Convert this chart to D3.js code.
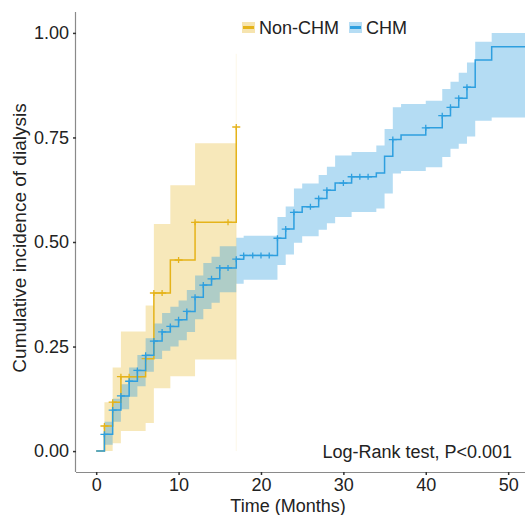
<!DOCTYPE html>
<html>
<head>
<meta charset="utf-8">
<script src="https://cdn.jsdelivr.net/npm/d3@7"></script>
<style>
  body { margin: 0; background: #fff; }
  text { font-family: "Liberation Sans", Arial, sans-serif; fill: #222; }
</style>
</head>
<body>
<div id="chart"></div>
<script>
// Non-CHM: step times (months), cumulative incidence and 95% CI
var nonTime  = [0, 1, 2, 3, 6, 7, 9, 12, 17];
var nonEst   = [0, 0.06, 0.117, 0.178, 0.221, 0.378, 0.457, 0.547, 0.775];
var nonLow   = [0, 0.0, 0.019, 0.048, 0.067, 0.15, 0.179, 0.219, 0.0];
var nonHigh  = [0, 0.117, 0.2, 0.286, 0.348, 0.543, 0.636, 0.736, 0.95];
var nonCensor = [1, 2, 3, 4, 5, 6, 7, 8, 10, 12, 16, 17];

// CHM
var chmTime = [0, 1, 2, 3, 4, 5, 6, 7, 8, 9, 10, 11, 12, 13, 14, 15, 17, 17.9,
               22, 23, 24, 25, 27, 28, 29, 31, 34, 35, 36, 37, 40, 42, 43, 44, 45, 46, 48, 53];
var chmEst  = [0, 0.04, 0.098, 0.132, 0.167, 0.193, 0.229, 0.263, 0.285, 0.298, 0.314, 0.334, 0.368, 0.397, 0.412, 0.438, 0.459, 0.468,
               0.509, 0.531, 0.571, 0.584, 0.604, 0.624, 0.641, 0.656, 0.665, 0.705, 0.745, 0.756, 0.773, 0.802, 0.822, 0.844, 0.87, 0.935, 0.967, 0.967];
var chmLow  = [0, 0.015, 0.07, 0.1, 0.13, 0.155, 0.19, 0.22, 0.24, 0.25, 0.265, 0.285, 0.315, 0.34, 0.355, 0.38, 0.4, 0.41,
               0.445, 0.47, 0.498, 0.514, 0.529, 0.545, 0.56, 0.572, 0.58, 0.616, 0.664, 0.67, 0.679, 0.703, 0.723, 0.735, 0.752, 0.79, 0.798, 0.798];
var chmHigh = [0, 0.07, 0.125, 0.16, 0.2, 0.23, 0.27, 0.305, 0.33, 0.345, 0.36, 0.385, 0.42, 0.45, 0.465, 0.49, 0.51, 0.515,
               0.56, 0.585, 0.628, 0.64, 0.66, 0.68, 0.707, 0.715, 0.731, 0.77, 0.822, 0.83, 0.838, 0.866, 0.883, 0.905, 0.929, 0.979, 1.0, 1.0];
var chmCensor = [1, 2, 3, 4, 5, 6, 7, 8, 9, 10, 11, 12, 13, 14, 15, 16, 17, 17.9, 19, 20, 21, 22, 23, 24,
                 26, 27, 28, 30, 31, 32, 33, 36, 40, 42, 43, 44, 45];

var xTicks = [0, 10, 20, 30, 40, 50];
var yTicks = [0, 0.25, 0.5, 0.75, 1];
var groups = ["Non-CHM", "CHM"];
var colors = ["#E5B31A", "#2E9FDF"];

var width = 525, height = 515;
var svg = d3.select("#chart").append("svg")
    .attr("width", width)
    .attr("height", height);

var x = d3.scaleLinear().domain([-2.45, 52.65]).range([76, 530]);
var y = d3.scaleLinear().domain([-0.05, 1.05]).range([472, 12]);

svg.append("clipPath").attr("id", "plotclip")
  .append("rect").attr("x", 76).attr("y", 0).attr("width", 460).attr("height", 472);

function rows(t, e, lo, hi) {
  return t.map(function (d, i) { return { t: d, est: e[i], lo: lo[i], hi: hi[i] }; });
}
var series = [
  rows(nonTime, nonEst, nonLow, nonHigh),
  rows(chmTime, chmEst, chmLow, chmHigh)
];
var censors = [nonCensor, chmCensor];

// value of a step curve at time t
function stepAt(data, t) {
  var v = 0;
  data.forEach(function (d) { if (d.t <= t + 1e-9) v = d.est; });
  return v;
}

var band = d3.area()
    .curve(d3.curveStepAfter)
    .x(function (d) { return x(d.t); })
    .y0(function (d) { return y(d.lo); })
    .y1(function (d) { return y(d.hi); });

var line = d3.line()
    .curve(d3.curveStepAfter)
    .x(function (d) { return x(d.t); })
    .y(function (d) { return y(d.est); });

var plot = svg.append("g").attr("clip-path", "url(#plotclip)");
var bandOpacity = [0.3, 0.36];

series.forEach(function (s, i) {
  plot.append("path")
    .attr("d", band(s))
    .attr("fill", colors[i])
    .attr("fill-opacity", bandOpacity[i])
    .attr("stroke", "none");
});

// last Non-CHM interval has zero width: only a faint sliver shows
var lastNon = series[0][series[0].length - 1];
plot.append("line")
  .attr("x1", x(lastNon.t)).attr("x2", x(lastNon.t))
  .attr("y1", y(lastNon.lo)).attr("y2", y(lastNon.hi))
  .attr("stroke", colors[0]).attr("stroke-opacity", 0.1).attr("stroke-width", 1);

series.forEach(function (s, i) {
  plot.append("path")
    .attr("d", line(s))
    .attr("fill", "none")
    .attr("stroke", colors[i])
    .attr("stroke-width", 1.5);

  plot.selectAll(".cens" + i)
    .data(censors[i])
    .enter().append("path")
    .attr("class", "cens" + i)
    .attr("d", function (t) {
      var cx = x(t), cy = y(stepAt(s, t));
      return "M" + (cx - 4) + "," + cy + "H" + (cx + 4) + "M" + cx + "," + (cy - 3) + "V" + (cy + 3);
    })
    .attr("stroke", colors[i])
    .attr("stroke-width", 1.3);
});

// axes
var xAxis = svg.append("g").attr("transform", "translate(0,472)")
  .call(d3.axisBottom(x).tickValues(xTicks).tickSize(3).tickPadding(3).tickFormat(d3.format("d")));
var yAxis = svg.append("g").attr("transform", "translate(76,0)")
  .call(d3.axisLeft(y).tickValues(yTicks).tickSize(3).tickPadding(4).tickFormat(d3.format(".2f")));

[xAxis, yAxis].forEach(function (a) {
  a.select(".domain").attr("stroke", "#8a8a8a").attr("stroke-width", 1.2);
  a.selectAll(".tick line").attr("stroke", "#333").attr("stroke-width", 1.5);
  a.selectAll(".tick text").attr("fill", "#222")
    .style("font-family", "'Liberation Sans', Arial, sans-serif")
    .style("font-size", "18px");
});
xAxis.select(".domain").attr("d", "M76,0.5H525");
yAxis.select(".domain").attr("d", "M-0.5,12V472");

svg.append("text")
  .attr("x", 288).attr("y", 512)
  .attr("text-anchor", "middle")
  .style("font-size", "18px")
  .text("Time (Months)");

svg.append("text")
  .attr("transform", "translate(26,238) rotate(-90)")
  .attr("text-anchor", "middle")
  .style("font-size", "19px")
  .text("Cumulative incidence of dialysis");

svg.append("text")
  .attr("x", 512).attr("y", 458)
  .attr("text-anchor", "end")
  .style("font-size", "18px")
  .text("Log-Rank test, P<0.001");

// legend
var legX = [242, 349];
groups.forEach(function (g, i) {
  var lg = svg.append("g").attr("transform", "translate(" + legX[i] + ",22)");
  lg.append("rect").attr("width", 13).attr("height", 11)
    .attr("fill", colors[i]).attr("fill-opacity", 0.35);
  lg.append("line").attr("x1", 1).attr("x2", 12).attr("y1", 5.5).attr("y2", 5.5)
    .attr("stroke", colors[i]).attr("stroke-width", 3);
  lg.append("text").attr("x", 17).attr("y", 11.5)
    .style("font-size", "18px").text(g);
});
</script>
</body>
</html>
